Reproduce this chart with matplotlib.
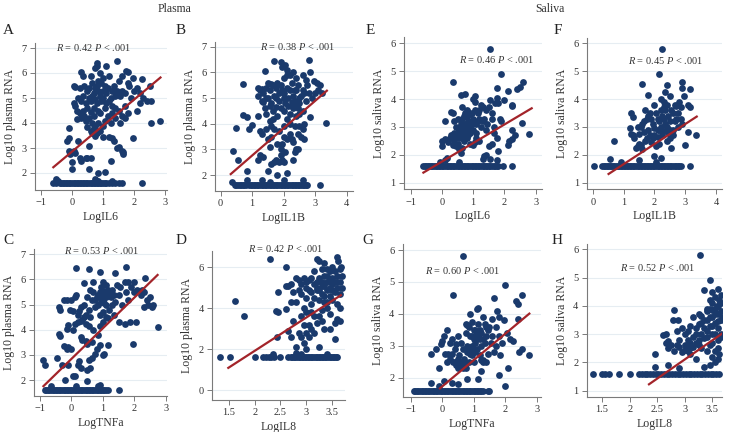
import matplotlib.pyplot as plt

plt.rcParams['font.family'] = ['Liberation Serif', 'DejaVu Serif']
plt.rcParams['mathtext.fontset'] = 'custom'
plt.rcParams['mathtext.rm'] = 'Liberation Serif'
plt.rcParams['mathtext.it'] = 'Liberation Serif:italic'

NAVY = '#1a3a6c'
RED = '#a3242a'
LOD = 1.6  # detection limit row seen on every panel

# ---- panel A: LogIL6 vs plasma ----
a_floor = [-0.6, -0.5, -0.4, -0.35, -0.3, -0.25, -0.2, -0.15, -0.1, -0.05, 0.0, 0.05, 0.1, 0.15,
           0.2, 0.25, 0.3, 0.35, 0.4, 0.45, 0.5, 0.55, 0.6, 0.65, 0.7, 0.75, 0.8, 0.85, 0.9, 0.95,
           1.0, 1.05, 1.1, 1.2, 1.3, 1.4, 1.5, 1.6, 2.25]
a_pts = [(-0.45, 1.7), (0.8, 1.7), (0.85, 1.7), (1.3, 1.7), (-0.5, 1.75), (0.75, 1.75),
         (0.0, 2.15), (0.55, 2.15), (0.85, 2.0), (1.05, 2.05), (1.25, 2.5), (0.45, 2.6), (0.5, 2.6),
         (0.6, 2.6), (0.3, 2.5), (0.1, 2.8), (-0.05, 2.75), (-0.1, 2.9), (0.0, 2.45), (0.25, 2.6),
         (0.2, 3.3), (-0.15, 3.3), (-0.1, 3.4), (0.05, 2.9), (0.55, 3.1), (0.75, 3.5), (0.8, 3.6),
         (0.9, 3.7), (1.0, 3.45), (1.2, 3.45), (1.45, 3.0), (1.5, 3.05), (1.35, 3.3), (1.3, 3.4),
         (1.6, 2.9), (1.65, 2.75), (1.65, 2.85), (1.95, 3.4), (-0.1, 3.8), (0.5, 3.85), (0.6, 3.7),
         (0.65, 3.6), (0.7, 3.8), (0.75, 3.9), (0.85, 4.0), (1.0, 3.9), (1.05, 4.1), (1.25, 4.0),
         (1.4, 4.2), (1.55, 4.0), (1.8, 4.4), (2.1, 4.5), (2.55, 4.0), (2.85, 4.1), (2.4, 4.9),
         (2.3, 5.0), (2.2, 5.2), (2.1, 5.4), (2.0, 5.3), (1.85, 5.5), (1.8, 6.05), (1.75, 6.1),
         (1.6, 5.9), (2.25, 5.75), (2.5, 5.5), (2.55, 4.9), (2.2, 4.8), (1.7, 4.7), (1.6, 5.3),
         (1.5, 5.7), (1.4, 5.1), (1.45, 6.5), (1.1, 6.3), (0.8, 6.4), (0.8, 6.3), (0.75, 6.2),
         (0.9, 6.0), (0.3, 6.05), (0.35, 5.9), (0.6, 5.9), (1.2, 5.9), (1.0, 5.8), (0.85, 5.7),
         (0.95, 5.6), (0.05, 5.5), (0.1, 5.45), (0.25, 5.4), (0.4, 5.5), (0.5, 5.3), (0.55, 5.4),
         (0.65, 5.6), (0.7, 5.2), (0.75, 5.4), (0.8, 5.5), (0.85, 5.3), (0.9, 5.1), (1.0, 5.3),
         (1.05, 5.5), (1.1, 5.2), (1.15, 5.4), (1.25, 5.0), (1.3, 5.3), (1.35, 5.5), (1.45, 5.3),
         (1.55, 5.1), (1.7, 5.2), (0.2, 5.0), (0.3, 4.9), (0.35, 5.1), (0.45, 4.8), (0.55, 5.0),
         (0.6, 4.9), (0.65, 5.1), (0.75, 4.95), (0.8, 4.8), (0.95, 4.9), (1.0, 5.0), (1.1, 4.8),
         (1.2, 4.9), (1.3, 4.7), (1.4, 4.6), (0.05, 4.8), (0.1, 4.7), (0.15, 4.5), (0.25, 4.4),
         (0.35, 4.5), (0.4, 4.3), (0.5, 4.6), (0.6, 4.45), (0.7, 4.6), (0.85, 4.5), (0.9, 4.4),
         (1.05, 4.6), (1.15, 4.3), (1.3, 4.4), (1.5, 4.5), (0.15, 4.15), (0.3, 4.2), (0.45, 4.1),
         (0.55, 4.2), (0.7, 4.3), (1.6, 4.3), (0.65, 4.0), (1.7, 4.2), (1.9, 5.0), (1.8, 5.6),
         (1.95, 5.8)]
a_fit_x = [-0.6, 2.85]
a_fit_y = [2.23, 5.82]

# ---- panel B: LogIL1B vs plasma ----
b_floor = [0.45, 0.5, 0.55, 0.6, 0.65, 0.7, 0.75, 0.8, 0.9, 0.95, 1.0, 1.05, 1.1, 1.15, 1.2, 1.25,
           1.3, 1.35, 1.4, 1.45, 1.5, 1.55, 1.6, 1.65, 1.7, 1.75, 1.8, 1.85, 1.9, 1.95, 2.0, 2.05,
           2.1, 2.15, 2.2, 2.25, 2.3, 2.35, 2.4, 2.45, 2.5, 2.55, 2.6, 2.65, 2.7, 2.75, 3.15]
b_pts = [(0.35, 1.75), (0.85, 1.8), (1.3, 1.8), (1.55, 1.75), (2.0, 1.8), (2.6, 1.8),
         (0.4, 2.95), (0.55, 2.6), (0.85, 2.15), (1.2, 2.6), (1.25, 2.8), (1.35, 2.7), (1.5, 2.15),
         (1.6, 2.45), (1.7, 2.5), (1.75, 2.6), (1.8, 2.0), (1.85, 2.5), (1.9, 2.8), (1.95, 2.6),
         (2.0, 2.5), (2.05, 2.9), (2.1, 2.1), (2.3, 2.6), (2.35, 2.9), (2.4, 3.0), (2.45, 3.0),
         (1.5, 3.4), (1.55, 3.1), (1.6, 3.5), (1.8, 3.2), (1.9, 3.0), (1.95, 3.2), (2.0, 3.5),
         (2.1, 3.4), (2.25, 3.4), (2.3, 3.3), (2.55, 3.5), (2.65, 3.4), (2.6, 3.8), (2.5, 3.9),
         (2.65, 4.0), (0.5, 3.85), (0.9, 3.8), (1.0, 3.95), (1.25, 3.7), (1.3, 3.6), (1.45, 3.8),
         (1.6, 3.9), (1.7, 3.8), (1.85, 3.7), (2.0, 3.9), (2.2, 3.6), (2.35, 3.9), (2.45, 3.6),
         (0.7, 4.35), (0.85, 4.25), (1.2, 4.3), (1.45, 4.4), (1.55, 4.1), (1.65, 4.5), (1.8, 4.3),
         (1.9, 4.6), (2.0, 4.5), (2.1, 4.2), (2.2, 4.0), (2.3, 4.6), (2.4, 4.3), (2.5, 4.4),
         (2.6, 4.5), (2.85, 4.25), (3.35, 4.05), (0.7, 5.55), (1.2, 5.1), (1.25, 5.3), (1.3, 4.9),
         (1.35, 5.2), (1.4, 6.05), (1.45, 5.4), (1.5, 5.0), (1.55, 5.3), (1.6, 4.8), (1.65, 5.5),
         (1.7, 5.1), (1.75, 5.4), (1.7, 6.45), (1.8, 5.6), (1.85, 5.2), (1.9, 6.4), (1.95, 5.3),
         (1.95, 6.2), (2.0, 5.8), (2.0, 5.0), (2.05, 6.3), (2.1, 5.4), (2.1, 6.1), (2.15, 5.0),
         (2.2, 5.9), (2.2, 5.3), (2.25, 5.6), (2.3, 5.1), (2.35, 4.9), (2.4, 5.8), (2.4, 5.3),
         (2.45, 5.5), (2.5, 4.8), (2.55, 5.1), (2.6, 5.9), (2.6, 5.3), (2.7, 5.7), (2.75, 5.5),
         (2.8, 6.5), (2.85, 6.0), (2.9, 5.0), (2.95, 5.65), (3.05, 5.6), (3.1, 5.3), (3.15, 5.5),
         (3.2, 5.2), (3.0, 5.2), (1.3, 5.35), (1.5, 5.6), (1.6, 5.55), (1.75, 5.0), (1.85, 4.9),
         (1.9, 5.5), (2.0, 5.2), (2.05, 4.8), (2.15, 4.7), (2.25, 4.85), (2.35, 5.3), (2.45, 4.6),
         (2.5, 5.0), (2.65, 5.2), (2.7, 4.9), (2.2, 4.4), (2.3, 4.8), (2.4, 4.7), (1.4, 4.6),
         (1.45, 5.0), (1.55, 4.7), (2.8, 5.2), (2.1, 5.9), (2.3, 6.0), (1.2, 5.4), (1.35, 4.85),
         (1.65, 4.2), (1.75, 4.65)]
b_fit_x = [0.32, 3.37]
b_fit_y = [2.04, 5.29]

# ---- panel E: LogIL6 vs saliva ----
e_floor = [-0.6, -0.55, -0.5, -0.45, -0.4, -0.35, -0.3, -0.25, -0.2, -0.15, -0.1, -0.05, 0.0,
           0.05, 0.1, 0.15, 0.2, 0.25, 0.3, 0.35, 0.4, 0.45, 0.5, 0.55, 0.6, 0.65, 0.7, 0.75, 0.8,
           0.85, 0.9, 0.95, 1.0, 1.05, 1.1, 1.15, 1.2, 1.25, 1.3, 1.35, 1.4, 1.45, 1.5, 1.55, 1.6,
           1.65, 1.7, 1.75, 1.8, 1.95, 2.25]
e_pts = [(-0.05, 1.75), (0.1, 1.8), (0.55, 1.75), (1.3, 1.85), (1.55, 1.85), (1.75, 1.8),
         (0.15, 1.9), (0.0, 2.3), (0.0, 2.5), (0.1, 2.55), (0.2, 2.45), (0.25, 2.6), (0.3, 2.7),
         (0.35, 2.35), (0.4, 2.5), (0.45, 2.3), (0.5, 2.4), (0.55, 2.2), (0.6, 2.05), (0.65, 2.25),
         (0.7, 2.5), (0.8, 2.6), (0.9, 2.4), (1.0, 2.35), (1.05, 2.45), (1.1, 2.6), (1.2, 2.5),
         (1.35, 1.95), (1.4, 2.0), (1.5, 2.3), (1.6, 2.4), (1.65, 2.8), (1.75, 2.6), (1.8, 2.15),
         (2.1, 2.35), (2.15, 2.5), (2.25, 2.55), (2.35, 2.7), (2.25, 2.9), (0.1, 3.2), (0.3, 3.55),
         (0.35, 3.5), (0.4, 3.2), (0.45, 3.0), (0.5, 3.3), (0.55, 2.9), (0.6, 3.1), (0.65, 3.7),
         (0.7, 3.4), (0.75, 2.8), (0.8, 3.6), (0.85, 3.2), (0.9, 3.0), (0.95, 3.5), (1.0, 3.3),
         (1.05, 3.9), (1.1, 3.1), (1.15, 3.5), (1.2, 3.3), (1.25, 3.0), (1.3, 3.7), (1.4, 3.6),
         (1.45, 3.1), (1.5, 3.7), (1.55, 3.95), (1.6, 3.3), (1.7, 3.85), (1.75, 4.05), (1.8, 3.85),
         (1.9, 3.2), (1.85, 3.3), (2.0, 3.95), (2.1, 4.3), (2.25, 3.8), (2.25, 3.75), (2.4, 4.35),
         (2.5, 4.45), (2.6, 4.6), (2.55, 3.15), (2.8, 2.75), (1.75, 4.4), (1.9, 4.9), (1.55, 5.8),
         (0.35, 4.6), (0.6, 4.15), (0.75, 4.2), (1.0, 4.0), (1.05, 4.1), (0.65, 3.0), (0.7, 2.9),
         (0.75, 3.1), (0.8, 2.95), (0.85, 3.05), (0.9, 2.8), (0.6, 2.8), (0.65, 2.6), (0.7, 2.7),
         (0.5, 2.7), (0.55, 2.6), (0.85, 2.7), (0.95, 3.1), (1.0, 2.9), (1.1, 2.8), (1.15, 3.2),
         (1.3, 3.2), (1.35, 3.3), (1.2, 3.6), (1.25, 3.8), (0.8, 3.35), (0.9, 3.45), (0.75, 3.5),
         (0.65, 3.3), (0.85, 3.55), (1.05, 3.6), (1.4, 2.9), (0.35, 2.7), (0.4, 2.8), (0.45, 2.65),
         (1.65, 3.0), (1.6, 3.5)]
e_fit_x = [-0.59, 2.87]
e_fit_y = [1.36, 3.67]

# ---- panel F: LogIL1B vs saliva ----
f_floor = [0.05, 0.3, 0.35, 0.4, 0.45, 0.5, 0.55, 0.6, 0.65, 0.7, 0.75, 0.8, 0.85, 0.9, 0.95, 1.0,
           1.05, 1.1, 1.15, 1.2, 1.25, 1.3, 1.35, 1.4, 1.45, 1.5, 1.55, 1.6, 1.65, 1.7, 1.75, 1.8,
           1.85, 1.9, 1.95, 2.0, 2.05, 2.1, 2.15, 2.2, 2.25, 2.3, 2.35, 2.4, 2.45, 2.5, 2.55, 2.6,
           2.65, 2.7, 2.75, 2.8, 2.85, 3.15]
f_pts = [(0.55, 1.85), (0.9, 1.75), (2.05, 1.75), (2.0, 1.95), (2.2, 1.9), (1.5, 1.8),
         (0.7, 2.5), (1.2, 2.95), (1.25, 3.5), (1.25, 2.75), (1.3, 2.7), (1.35, 2.6), (1.4, 2.25),
         (1.45, 2.3), (1.5, 2.4), (1.55, 2.35), (1.6, 2.2), (1.55, 3.0), (1.6, 3.1), (1.65, 2.8),
         (1.7, 3.6), (1.75, 2.6), (1.8, 2.9), (1.85, 2.7), (1.9, 3.3), (1.95, 2.6), (2.0, 3.8),
         (2.05, 2.3), (2.1, 2.9), (2.15, 3.2), (2.2, 3.6), (2.25, 2.7), (2.3, 3.9), (2.35, 3.1),
         (2.4, 2.5), (2.45, 3.4), (2.5, 2.9), (2.55, 2.25), (2.6, 3.5), (2.65, 3.2), (2.7, 3.75),
         (2.75, 3.0), (2.8, 3.9), (2.85, 3.3), (2.9, 3.1), (2.95, 4.1), (3.0, 2.35), (3.1, 3.8),
         (3.15, 3.7), (3.1, 2.8), (3.35, 2.7), (3.15, 4.35), (2.9, 4.6), (2.9, 4.4), (2.4, 4.5),
         (2.35, 4.25), (2.15, 4.9), (1.8, 4.15), (1.6, 4.55), (2.25, 5.8), (1.3, 3.35), (1.45, 3.0),
         (1.5, 2.75), (1.75, 3.3), (1.8, 3.4), (1.85, 3.5), (1.95, 3.1), (2.0, 2.95), (2.05, 3.5),
         (2.1, 3.3), (2.15, 2.9), (2.2, 3.0), (2.25, 3.4), (2.3, 3.3), (2.35, 3.6), (2.4, 3.0),
         (2.45, 2.8), (2.5, 3.2), (2.55, 3.6), (2.6, 2.9), (2.65, 3.8), (2.7, 3.3), (2.75, 3.5),
         (2.85, 3.7), (2.3, 3.7), (2.2, 4.0), (2.4, 3.8), (2.5, 4.1), (1.9, 2.45), (2.1, 2.65),
         (2.0, 2.7), (1.7, 2.5), (1.65, 3.2), (2.3, 2.85), (2.15, 2.4), (2.6, 2.7), (2.5, 2.6)]
f_fit_x = [0.51, 3.37]
f_fit_y = [1.31, 3.37]

# ---- panel C: LogTNFa vs plasma ----
c_floor = [-0.85, -0.8, -0.75, -0.7, -0.65, -0.6, -0.55, -0.5, -0.45, -0.4, -0.35, -0.3, -0.25,
           -0.2, -0.15, -0.1, -0.05, 0.0, 0.05, 0.1, 0.15, 0.2, 0.25, 0.3, 0.35, 0.4, 0.45, 0.5,
           0.55, 0.6, 0.65, 0.7, 0.75, 0.8, 0.85, 0.9, 0.95, 1.0, 1.05, 1.1, 1.15, 1.5]
c_pts = [(-0.65, 1.75), (0.15, 1.75), (0.85, 1.75), (0.9, 1.8),
         (-0.9, 2.8), (-0.85, 2.6), (-0.45, 2.9), (-0.3, 2.6), (-0.2, 2.0), (-0.1, 2.6), (0.05, 2.15),
         (0.1, 2.15), (0.2, 2.6), (0.25, 2.75), (0.3, 2.5), (0.5, 1.95), (0.5, 2.4), (0.6, 2.5),
         (0.55, 2.8), (0.65, 2.9), (0.75, 3.05), (0.8, 3.25), (1.0, 3.0), (1.05, 3.05), (0.9, 3.4),
         (1.15, 3.4), (1.95, 3.45), (-0.25, 3.35), (-0.15, 3.25), (-0.1, 3.3), (0.0, 3.25),
         (0.3, 3.7), (0.35, 3.6), (0.45, 3.55), (0.5, 3.45), (0.65, 3.5), (0.85, 3.8), (-0.4, 3.85),
         (-0.35, 3.75), (-0.15, 4.05), (-0.1, 4.2), (0.05, 4.0), (0.1, 4.25), (0.2, 4.3),
         (0.3, 4.35), (0.35, 4.4), (0.45, 4.25), (0.55, 4.15), (0.7, 4.0), (0.9, 4.15), (1.0, 4.3),
         (1.15, 4.45), (1.35, 4.6), (1.5, 4.3), (1.7, 4.25), (1.85, 4.3), (2.05, 4.3), (2.75, 4.1),
         (-0.4, 4.9), (-0.35, 4.8), (-0.25, 5.2), (-0.15, 5.2), (-0.05, 4.8), (0.0, 5.2),
         (0.05, 4.75), (0.1, 5.3), (0.15, 5.4), (0.2, 4.6), (0.25, 4.75), (0.3, 4.9), (0.4, 5.0),
         (0.45, 4.6), (0.5, 5.3), (0.55, 4.8), (0.6, 5.6), (0.65, 5.2), (0.7, 5.5), (0.75, 4.9),
         (0.8, 5.3), (0.85, 5.0), (0.9, 5.5), (0.95, 5.7), (1.0, 5.2), (1.05, 5.4), (1.1, 5.8),
         (1.1, 5.0), (1.15, 5.6), (1.2, 4.8), (1.25, 5.3), (1.3, 5.6), (1.4, 5.1), (1.45, 5.8),
         (1.5, 5.4), (1.55, 5.7), (1.6, 5.0), (1.7, 5.9), (1.75, 5.5), (1.8, 5.2), (1.9, 5.7),
         (2.0, 5.5), (2.1, 5.6), (2.2, 5.4), (2.3, 5.5), (2.35, 6.05), (2.25, 5.6), (2.3, 4.9),
         (2.4, 5.2), (2.45, 5.0), (2.5, 5.3), (2.6, 5.0), (2.55, 4.9), (0.15, 6.45), (0.55, 6.4),
         (0.9, 6.3), (1.4, 6.25), (1.75, 6.5), (1.0, 5.9), (0.7, 5.9), (0.4, 5.85), (0.95, 5.1),
         (1.0, 4.7), (1.05, 5.55), (1.1, 5.3), (0.85, 5.4), (0.75, 5.2), (0.9, 4.6), (0.6, 4.5),
         (0.4, 4.5), (1.2, 5.5), (1.3, 5.0), (1.35, 5.4), (0.95, 5.3), (1.05, 5.05), (1.1, 4.5),
         (1.8, 5.9), (2.0, 5.9)]
c_fit_x = [-0.89, 2.74]
c_fit_y = [1.76, 6.18]

# ---- panel D: LogIL8 vs plasma ----
d_floor = [1.33, 1.52, 2.0, 2.17, 2.22, 2.27, 2.32, 2.37, 2.5, 2.65, 2.7, 2.73, 2.76, 2.79, 2.82,
           2.85, 2.88, 2.91, 2.94, 2.97, 3.0, 3.03, 3.06, 3.09, 3.12, 3.15, 3.18, 3.21, 3.24, 3.27,
           3.3, 3.33, 3.36, 3.39, 3.42, 3.45, 3.48, 3.51, 3.54, 3.57, 3.6]
d_pts = [(2.35, 1.75), (2.8, 1.8), (2.9, 1.75), (3.4, 1.75),
         (1.62, 4.35), (1.8, 3.6), (2.3, 6.4), (2.45, 3.8), (2.42, 3.85), (2.45, 4.8), (2.43, 2.6),
         (2.6, 6.0), (2.6, 3.95), (2.6, 5.1), (2.65, 2.9), (2.7, 2.6), (2.7, 5.2), (2.75, 4.8),
         (2.8, 5.5), (2.8, 4.3), (2.75, 3.4), (2.8, 2.1), (2.85, 5.4), (2.85, 2.8), (2.9, 5.2),
         (2.9, 3.6), (2.9, 2.6), (2.95, 4.0), (2.95, 2.3), (3.0, 5.0), (3.0, 4.5), (3.0, 3.8),
         (3.0, 2.0), (3.05, 5.4), (3.05, 3.2), (3.05, 2.6), (3.1, 4.8), (3.1, 4.2), (3.1, 3.0),
         (3.15, 5.8), (3.15, 4.5), (3.15, 3.6), (3.2, 6.4), (3.2, 5.3), (3.2, 4.9), (3.2, 3.3),
         (3.25, 6.3), (3.25, 5.5), (3.25, 4.4), (3.25, 2.1), (3.3, 5.9), (3.3, 5.1), (3.3, 4.7),
         (3.3, 3.9), (3.35, 5.6), (3.35, 4.3), (3.35, 3.0), (3.4, 5.3), (3.4, 4.9), (3.4, 4.0),
         (3.45, 5.8), (3.45, 5.0), (3.45, 4.6), (3.45, 3.7), (3.5, 6.0), (3.5, 5.5), (3.5, 5.2),
         (3.5, 4.4), (3.55, 5.8), (3.55, 4.8), (3.55, 2.5), (3.55, 3.3), (3.6, 6.5), (3.6, 5.6),
         (3.6, 5.0), (3.6, 4.2), (3.6, 3.5), (3.62, 6.3), (3.65, 5.9), (3.65, 5.3), (3.65, 4.7),
         (3.65, 4.0), (3.65, 3.4), (3.68, 6.0), (3.7, 5.6), (3.7, 5.0), (3.3, 5.3), (3.35, 5.1),
         (3.4, 5.6), (3.2, 5.0), (3.1, 5.5), (2.95, 5.5), (3.0, 5.3), (3.05, 4.9), (3.15, 5.2),
         (3.25, 4.9), (3.45, 5.4), (3.5, 4.9), (3.55, 5.3), (3.6, 5.3), (3.35, 4.6), (3.4, 4.3),
         (2.85, 4.9), (2.9, 4.7), (3.1, 3.8), (3.25, 3.6), (2.7, 4.3), (2.65, 5.1), (3.0, 2.8),
         (2.95, 3.2), (3.15, 2.8), (3.45, 3.0), (3.3, 3.4), (3.35, 6.2), (3.4, 5.9)]
d_fit_x = [1.49, 3.67]
d_fit_y = [1.09, 4.64]

# ---- panel G: LogTNFa vs saliva ----
g_floor = [-0.9, -0.85, -0.8, -0.75, -0.7, -0.65, -0.6, -0.55, -0.5, -0.45, -0.4, -0.35, -0.3,
           -0.25, -0.2, -0.15, -0.1, -0.05, 0.0, 0.05, 0.1, 0.15, 0.2, 0.25, 0.3, 0.35, 0.4, 0.45,
           0.5, 0.55, 0.6, 0.65, 0.7, 0.75, 0.8, 0.85, 0.9, 0.95, 1.0, 1.05, 1.1, 1.15, 1.2, 1.25,
           1.3, 1.45, 1.5]
g_pts = [(-0.35, 1.85), (-0.1, 1.75), (0.05, 1.9), (0.3, 1.85), (0.5, 1.8), (0.8, 1.95),
         (1.15, 1.95), (1.8, 2.1), (2.0, 1.75),
         (-0.35, 2.75), (-0.2, 2.9), (-0.1, 2.3), (-0.05, 3.05), (0.0, 3.15), (0.05, 3.3),
         (0.15, 3.5), (0.2, 2.75), (0.25, 3.1), (0.3, 3.2), (0.35, 2.5), (0.35, 4.6), (0.4, 2.9),
         (0.45, 3.05), (0.5, 2.3), (0.5, 3.3), (0.55, 2.5), (0.6, 3.1), (0.65, 2.3), (0.65, 5.8),
         (0.7, 2.6), (0.75, 3.4), (0.75, 3.7), (0.8, 2.8), (0.85, 3.6), (0.9, 4.0), (0.95, 3.3),
         (0.95, 2.7), (1.0, 3.5), (1.0, 2.5), (1.05, 3.1), (1.1, 4.15), (1.1, 3.2), (1.15, 3.7),
         (1.2, 2.7), (1.2, 3.5), (1.25, 3.0), (1.3, 2.5), (1.3, 3.9), (1.35, 3.7), (1.4, 3.3),
         (1.45, 2.75), (1.5, 3.6), (1.55, 3.1), (1.6, 3.85), (1.65, 4.5), (1.65, 2.8), (1.7, 3.6),
         (1.75, 4.1), (1.8, 3.9), (1.85, 2.7), (1.9, 3.1), (1.95, 3.8), (2.0, 4.9), (2.05, 3.4),
         (2.1, 2.3), (2.15, 3.2), (2.25, 3.15), (2.35, 4.4), (2.4, 4.3), (2.4, 3.85), (2.45, 2.8),
         (2.55, 4.6), (2.55, 2.9), (2.75, 2.7), (1.25, 2.55), (1.3, 2.55), (1.25, 2.2), (0.4, 2.5),
         (0.45, 2.4), (0.6, 2.45), (0.7, 2.45), (0.75, 2.3), (0.85, 2.5), (0.5, 2.6), (0.55, 2.7),
         (0.65, 2.9), (0.8, 3.0), (0.85, 2.9), (0.9, 2.75), (0.95, 3.0), (1.0, 2.9), (1.05, 2.8),
         (1.1, 2.9), (1.15, 3.3), (1.2, 3.2), (0.9, 3.3), (1.0, 3.2), (1.05, 3.5), (1.1, 3.4),
         (1.25, 3.4), (1.3, 3.2), (1.35, 3.1), (1.4, 3.6), (1.45, 3.5), (0.8, 3.65), (0.95, 3.75),
         (1.15, 4.2), (1.4, 2.5), (1.6, 3.3), (1.8, 3.3), (1.7, 3.0), (0.3, 2.75), (0.25, 2.6),
         (0.15, 2.5), (0.1, 2.75)]
g_fit_x = [-0.07, 2.77]
g_fit_y = [1.67, 4.01]

# ---- panel H: LogIL8 vs saliva ----
h_floor = [1.33, 1.5, 1.55, 1.62, 1.8, 2.0, 2.17, 2.22, 2.27, 2.32, 2.37, 2.42, 2.47, 2.52, 2.57,
           2.62, 2.67, 2.72, 2.77, 2.82, 2.87, 2.92, 2.97, 3.02, 3.07, 3.12, 3.17, 3.22, 3.27, 3.32,
           3.37, 3.42, 3.47, 3.52, 3.57, 3.62]
h_pts = [(2.45, 1.85), (2.7, 1.9), (2.9, 1.8), (3.35, 1.85), (3.45, 1.9),
         (2.45, 2.3), (2.6, 2.95), (2.65, 3.0), (2.7, 2.75), (2.75, 2.6), (2.8, 3.85), (2.78, 3.5),
         (2.8, 2.4), (2.85, 3.1), (2.85, 2.6), (2.88, 3.5), (2.9, 2.8), (2.95, 2.35), (3.0, 2.6),
         (3.0, 3.0), (3.05, 2.4), (3.05, 2.8), (3.1, 3.3), (3.1, 2.5), (3.15, 2.9), (3.15, 3.6),
         (3.2, 2.7), (3.2, 3.2), (3.2, 2.1), (3.25, 3.7), (3.25, 2.8), (3.28, 5.8), (3.3, 3.4),
         (3.3, 3.0), (3.3, 2.5), (3.35, 4.55), (3.35, 3.2), (3.4, 3.8), (3.4, 3.5), (3.4, 2.9),
         (3.45, 4.9), (3.45, 3.3), (3.45, 2.6), (3.5, 4.5), (3.5, 4.1), (3.5, 3.6), (3.5, 3.0),
         (3.5, 2.2), (3.55, 4.3), (3.55, 3.9), (3.55, 3.4), (3.55, 2.4), (3.6, 4.6), (3.6, 4.0),
         (3.6, 3.7), (3.6, 3.2), (3.6, 2.8), (3.62, 2.3), (3.65, 4.4), (3.65, 4.1), (3.65, 3.8),
         (3.65, 3.5), (3.65, 3.0), (3.65, 2.9), (3.68, 3.6), (3.1, 2.7), (3.15, 2.55), (3.25, 2.6),
         (3.35, 2.85), (3.4, 3.1), (3.45, 3.9), (3.5, 3.3), (3.55, 3.7), (3.6, 3.45), (3.3, 3.65),
         (3.35, 3.5), (3.45, 3.6), (3.5, 2.7), (3.55, 3.0), (3.6, 2.5), (3.0, 2.45), (2.9, 2.55),
         (2.95, 3.2), (3.05, 3.1), (3.2, 3.0), (3.25, 3.35), (2.65, 2.7), (2.7, 2.5), (3.1, 2.3),
         (3.4, 2.4), (3.55, 2.0), (3.6, 2.1), (3.45, 4.2), (3.4, 3.9), (3.5, 3.85), (3.58, 4.0),
         (3.62, 4.2)]
h_fit_x = [2.35, 3.70]
h_fit_y = [1.22, 3.05]

notes = ['0.42', '0.38', '0.46', '0.45', '0.53', '0.42', '0.60', '0.52']


def draw(rect, pts, floor_x, fit_x, fit_y, xlim, ylim, xticks, xlabels, yticks,
         xlabel, ylabel, r_txt, note_xy):
    ax = fig.add_axes([rect[0] / 730, 1 - rect[3] / 432,
                       (rect[1] - rect[0]) / 730, (rect[3] - rect[2]) / 432])
    xs = [p[0] for p in pts] + floor_x
    ys = [p[1] for p in pts] + [LOD] * len(floor_x)
    ax.scatter(xs, ys, s=24, color=NAVY, linewidths=0, zorder=3)
    ax.plot(fit_x, fit_y, color=RED, lw=1.6, zorder=4)
    ax.set_xlim(*xlim)
    ax.set_ylim(*ylim)
    ax.set_xticks(xticks)
    ax.set_xticklabels(xlabels)
    ax.set_yticks(yticks)
    ax.set_yticklabels([str(t) for t in yticks])
    for t in yticks:
        ax.axhline(t, color='#e6edf2', lw=0.8, zorder=0)
    for s in ['top', 'right']:
        ax.spines[s].set_visible(False)
    for s in ['left', 'bottom']:
        ax.spines[s].set_color('#7a7a7a')
        ax.spines[s].set_linewidth(0.8)
    ax.tick_params(length=3.5, width=0.7, color='#7a7a7a', labelsize=7.5,
                   labelcolor='#333333', pad=2.5)
    ax.set_xlabel(xlabel, fontsize=8.5, color='#333333', labelpad=2.5)
    ax.set_ylabel(ylabel, fontsize=8.5, color='#333333', labelpad=4)
    ax.text(note_xy[0], note_xy[1], r'$R$ = ' + r_txt + r' $P$ < .001', transform=ax.transAxes,
            ha='center', va='center', fontsize=7.5, color='#333333')
    return ax


fig = plt.figure(figsize=(7.3, 4.32), dpi=100)

lab_m1 = ['\u22121', '0', '1', '2', '3']
lab_04 = ['0', '1', '2', '3', '4']
lab_il8 = ['1.5', '2', '2.5', '3', '3.5']

draw((35, 167, 43, 190), a_pts, a_floor, a_fit_x, a_fit_y, (-1.19, 3.06), (1.32, 7.2),
     [-1, 0, 1, 2, 3], lab_m1, [2, 3, 4, 5, 6, 7], 'LogIL6', 'Log10 plasma RNA', notes[0], (0.44, 0.97))
draw((215, 352.7, 41.7, 191), b_pts, b_floor, b_fit_x, b_fit_y, (-0.18, 4.19), (1.38, 7.2),
     [0, 1, 2, 3, 4], lab_04, [2, 3, 4, 5, 6, 7], 'LogIL1B', 'Log10 plasma RNA', notes[1], (0.60, 0.97))
draw((404, 541.7, 37.3, 189.3), e_pts, e_floor, e_fit_x, e_fit_y, (-1.21, 3.19), (0.76, 6.22),
     [-1, 0, 1, 2, 3], lab_m1, [1, 2, 3, 4, 5, 6], 'LogIL6', 'Log10 saliva RNA', notes[2], (0.675, 0.855))
draw((587.3, 722.3, 38.3, 189.3), f_pts, f_floor, f_fit_x, f_fit_y, (-0.18, 4.2), (0.76, 6.18),
     [0, 1, 2, 3, 4], lab_04, [1, 2, 3, 4, 5, 6], 'LogIL1B', 'Log10 saliva RNA', notes[3], (0.58, 0.856))
draw((34.3, 166.7, 249.3, 396), c_pts, c_floor, c_fit_x, c_fit_y, (-1.18, 3.03), (1.37, 7.2),
     [-1, 0, 1, 2, 3], lab_m1, [2, 3, 4, 5, 6, 7], 'LogTNFa', 'Log10 plasma RNA', notes[4], (0.51, 0.99))
draw((212.3, 345, 251, 400), d_pts, d_floor, d_fit_x, d_fit_y, (1.18, 3.75), (-0.48, 6.8),
     [1.5, 2, 2.5, 3, 3.5], lab_il8, [0, 2, 4, 6], 'LogIL8', 'Log10 plasma RNA', notes[5], (0.55, 1.02))
draw((402.7, 541, 244.3, 397), g_pts, g_floor, g_fit_x, g_fit_y, (-1.25, 3.14), (1.4, 6.18),
     [-1, 0, 1, 2, 3], lab_m1, [2, 3, 4, 5, 6], 'LogTNFa', 'Log10 saliva RNA', notes[6], (0.43, 0.83))
draw((586.7, 722.3, 244.3, 397), h_pts, h_floor, h_fit_x, h_fit_y, (1.22, 3.68), (0.77, 6.18),
     [1.5, 2, 2.5, 3, 3.5], lab_il8, [1, 2, 3, 4, 5, 6], 'LogIL8', 'Log10 saliva RNA', notes[7], (0.52, 0.85))

# group headers and panel letters
fig.text(175 / 730, 1 - 9 / 432, 'Plasma', ha='center', va='center', fontsize=8.5, color='#333333')
fig.text(550 / 730, 1 - 9 / 432, 'Saliva', ha='center', va='center', fontsize=8.5, color='#333333')
for letter, px, py in [('A', 8, 30), ('B', 181, 30), ('E', 370, 30), ('F', 558, 30),
                       ('C', 8, 240), ('D', 181, 240), ('G', 368, 240), ('H', 557, 240)]:
    fig.text(px / 730, 1 - py / 432, letter, ha='center', va='center', fontsize=11, color='#222222')

fig.savefig('out.png', dpi=100, facecolor='white')
